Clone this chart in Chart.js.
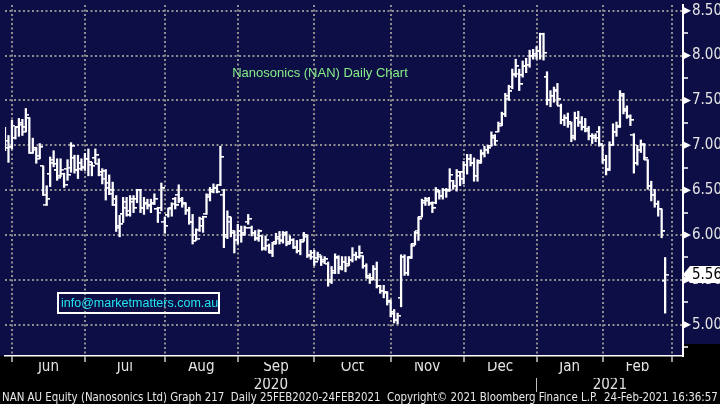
<!DOCTYPE html>
<html><head><meta charset="utf-8">
<script src="https://cdn.jsdelivr.net/npm/chart.js@4.4.1/dist/chart.umd.min.js"></script>
<style>html,body{margin:0;padding:0;background:#000;overflow:hidden}#wrap{width:720px;height:404px;position:relative}canvas{display:block}</style>
</head><body><div id="wrap"><canvas id="c" width="720" height="404" style="width:720px;height:404px"></canvas></div>
<script>
// Trading-day number of the first bar (0 = 1 Jun 2020)
const firstDay = -2;
// Daily OHLC, 28 May 2020 .. 24 Feb 2021
const open = [
 7.10,7.05,
 6.98,7.08,7.20,7.23,7.20,7.30,6.92,6.97,6.88,6.77,6.34,6.68,6.84,6.72,6.66,6.68,6.74,6.75,6.86,6.72,6.80,
 6.75,6.85,6.78,6.86,6.79,6.70,6.71,6.58,6.50,6.40,6.10,6.23,6.30,6.22,6.40,6.40,6.50,6.30,6.35,6.32,6.35,6.29,6.30,
 6.15,6.22,6.29,6.40,6.45,6.40,6.35,6.28,6.15,6.00,6.06,6.10,6.24,6.42,6.50,6.52,6.56,6.45,6.00,6.15,6.02,
 5.95,6.05,6.02,6.15,6.08,6.02,5.97,5.99,5.86,5.88,5.80,5.92,5.96,5.95,6.00,5.92,5.94,5.86,5.82,5.95,5.98,5.78,
 5.80,5.74,5.76,5.72,5.68,5.50,5.58,5.74,5.64,5.70,5.68,5.72,5.78,5.76,5.77,5.66,5.52,5.52,5.62,5.43,5.38,5.35,
 5.26,5.14,5.05,5.30,5.76,5.58,5.76,5.90,6.05,6.20,6.36,6.38,6.35,6.36,6.48,6.44,6.50,6.50,6.60,6.55,6.66,
 6.70,6.78,6.85,6.80,6.66,6.82,6.90,6.95,6.99,7.08,7.15,7.24,7.35,7.52,7.65,7.78,7.80,7.78,7.88,7.90,8.00,
 8.00,8.05,8.24,7.76,7.50,7.55,7.62,7.44,7.28,7.30,7.24,7.10,7.30,7.26,7.20,7.16,7.10,7.10,7.15,
 7.00,6.84,6.74,7.00,7.15,7.22,7.57,7.38,7.32,7.12,6.80,6.95,7.00,6.84,6.55,6.45,6.35,6.29,5.49
];
const high = [
 7.20,7.11,
 7.28,7.20,7.30,7.29,7.41,7.31,7.08,6.98,7.02,6.77,6.55,6.87,6.94,6.85,6.85,6.69,6.84,7.03,6.89,6.89,6.85,
 6.91,6.96,6.81,6.96,6.85,6.74,6.73,6.67,6.59,6.44,6.22,6.42,6.42,6.44,6.44,6.51,6.51,6.42,6.40,6.40,6.46,6.31,6.58,
 6.20,6.30,6.36,6.42,6.56,6.42,6.36,6.31,6.23,6.07,6.20,6.21,6.46,6.53,6.57,6.56,6.99,6.51,6.27,6.20,6.05,
 6.12,6.10,6.10,6.23,6.10,6.05,6.06,5.99,5.99,5.90,5.92,6.02,6.04,6.04,6.04,5.99,5.96,5.94,5.95,6.03,6.00,5.83,
 5.83,5.81,5.77,5.76,5.70,5.65,5.79,5.77,5.76,5.76,5.76,5.86,5.81,5.88,5.77,5.68,5.57,5.66,5.70,5.44,5.44,5.37,
 5.28,5.17,5.13,5.78,5.78,5.76,5.90,6.04,6.20,6.40,6.42,6.42,6.37,6.53,6.50,6.52,6.52,6.74,6.61,6.73,6.70,
 6.82,6.90,6.90,6.86,6.84,6.95,6.99,7.00,7.15,7.12,7.26,7.37,7.58,7.67,7.85,7.96,7.85,7.94,7.97,8.06,8.07,
 8.10,8.25,8.25,7.82,7.61,7.65,7.69,7.46,7.34,7.36,7.26,7.37,7.38,7.32,7.30,7.21,7.13,7.13,7.21,
 7.00,6.89,7.04,7.24,7.26,7.61,7.58,7.44,7.34,7.13,7.00,7.06,7.02,6.84,6.60,6.51,6.38,6.29,5.75
];
const low = [
 6.94,6.81,
 6.96,7.07,7.10,7.11,7.15,6.91,6.91,6.80,6.85,6.44,6.33,6.54,6.76,6.61,6.65,6.53,6.61,6.70,6.69,6.63,6.72,
 6.72,6.66,6.66,6.80,6.66,6.57,6.39,6.45,6.33,6.04,5.98,6.14,6.21,6.21,6.25,6.36,6.25,6.23,6.29,6.25,6.34,6.14,6.27,
 6.02,6.20,6.21,6.29,6.36,6.31,6.23,6.12,5.90,5.94,6.04,6.03,6.23,6.38,6.47,6.47,6.55,5.86,5.96,5.98,5.80,
 5.90,5.92,6.00,6.12,5.99,5.94,5.93,5.83,5.83,5.80,5.76,5.90,5.90,5.91,5.88,5.90,5.85,5.80,5.78,5.93,5.75,5.73,
 5.66,5.72,5.66,5.68,5.43,5.46,5.57,5.57,5.61,5.59,5.66,5.70,5.72,5.74,5.63,5.52,5.46,5.50,5.41,5.35,5.30,5.22,
 5.09,5.02,5.01,5.20,5.55,5.55,5.74,5.89,5.94,6.20,6.33,6.33,6.25,6.35,6.40,6.40,6.42,6.49,6.51,6.49,6.55,
 6.57,6.68,6.77,6.60,6.60,6.80,6.87,6.91,6.99,7.00,7.15,7.22,7.32,7.50,7.63,7.76,7.61,7.76,7.81,7.87,7.96,
 7.96,7.96,7.95,7.45,7.43,7.48,7.45,7.24,7.22,7.20,7.04,7.06,7.21,7.17,7.15,7.06,7.02,7.04,6.99,
 6.80,6.67,6.72,7.00,7.10,7.20,7.35,7.30,7.22,6.69,6.78,6.92,6.84,6.51,6.38,6.31,6.21,5.97,5.13
];
const close = [
 6.97,6.98,
 7.22,7.20,7.25,7.15,7.34,6.92,6.95,6.85,6.98,6.45,6.40,6.80,6.79,6.64,6.73,6.56,6.67,6.99,6.73,6.74,6.76,
 6.85,6.81,6.77,6.89,6.67,6.63,6.52,6.46,6.33,6.08,6.12,6.37,6.27,6.37,6.30,6.50,6.30,6.36,6.33,6.36,6.40,6.25,6.52,
 6.10,6.30,6.35,6.33,6.38,6.36,6.27,6.15,5.93,5.96,6.18,6.20,6.45,6.48,6.52,6.48,6.87,5.98,6.20,6.05,5.95,
 6.05,6.00,6.08,6.18,6.02,5.96,6.04,5.85,5.95,5.82,5.90,5.98,5.93,6.02,5.90,5.95,5.87,5.82,5.92,6.00,5.77,5.76,
 5.70,5.78,5.70,5.73,5.48,5.60,5.75,5.62,5.70,5.66,5.72,5.78,5.75,5.80,5.66,5.54,5.50,5.62,5.43,5.38,5.36,5.25,
 5.12,5.05,5.10,5.76,5.58,5.74,5.88,6.02,6.18,6.38,6.40,6.36,6.30,6.50,6.44,6.50,6.49,6.67,6.55,6.70,6.62,
 6.78,6.85,6.80,6.66,6.80,6.92,6.95,6.97,7.10,7.05,7.22,7.35,7.55,7.60,7.80,7.88,7.68,7.88,7.90,8.00,8.02,
 8.05,8.24,8.03,7.50,7.55,7.60,7.52,7.28,7.30,7.26,7.08,7.30,7.25,7.20,7.18,7.10,7.08,7.08,7.02,
 6.84,6.72,7.00,7.15,7.20,7.55,7.40,7.33,7.28,6.80,6.95,7.02,6.86,6.55,6.45,6.35,6.29,6.04,5.56
];
// Trading-day numbers of the first day of each month (Jun 2020 .. Mar 2021)
const monthStarts = [0,21,44,65,87,109,130,151,170,190];
const monthLabels = ['Jun','Jul','Aug','Sep','Oct','Nov','Dec','Jan','Feb'];
const yearLabels = ['2020','2021'];
const firstDay2021 = 151;
const priceTicks = [5.0,5.5,6.0,6.5,7.0,7.5,8.0,8.5];
const chartTitle = 'Nanosonics (NAN) Daily Chart';
const emailText = 'info@marketmatters.com.au';
const footerText = 'NAN AU Equity (Nanosonics Ltd) Graph 217  Daily 25FEB2020-24FEB2021  Copyright\u00A9 2021 Bloomberg Finance L.P.  24-Feb-2021 16:36:57';

// ---------- presentation ----------
const X_MIN = -2, X_MAX = 193.14, Y_MIN = 4.652, Y_MAX = 8.564;
const NAVY = '#0e0e46';
const NARROW = "'Liberation Sans Narrow','Arial Narrow','DejaVu Sans Condensed',sans-serif";
const SANS = "'Liberation Sans',Arial,sans-serif";

const days = open.map((_, k) => firstDay + k);
const monthMids = monthLabels.map((_, k) => (monthStarts[k] + monthStarts[k + 1]) / 2);
const yearTicks = [(X_MIN + firstDay2021) / 2, firstDay2021, (firstDay2021 + X_MAX) / 2];
const yearTickLabels = [yearLabels[0], '', yearLabels[1]];
const minorTicks = priceTicks.map(v => v - 0.25).concat([priceTicks[priceTicks.length - 1]]);
const allPriceTicks = Array.from(new Set(priceTicks.concat(minorTicks))).sort((a, b) => a - b);
const isMajor = v => priceTicks.some(p => Math.abs(p - v) < 1e-6);

function tickImage(side) {
  const c = document.createElement('canvas');
  c.width = 7; c.height = 2;
  const g = c.getContext('2d');
  g.fillStyle = '#ffffff';
  g.fillRect(side === 'left' ? 0 : 3.5, 0, 3.5, 1.6);
  return c;
}
function noPad(s) { s.paddingTop = 0; s.paddingBottom = 0; s.paddingLeft = 0; s.paddingRight = 0; }

const bgPlugin = {
  id: 'bg',
  beforeDraw(chart) {
    const { ctx, chartArea: a, width, height } = chart;
    ctx.save();
    ctx.fillStyle = '#000';
    ctx.fillRect(0, 0, width, height);
    ctx.fillStyle = NAVY;
    ctx.fillRect(0, 0, a.right, a.bottom);
    ctx.fillRect(a.right, 0, width - a.right, a.bottom - 12);
    ctx.restore();
  }
};

const overlayPlugin = {
  id: 'overlay',
  afterDraw(chart) {
    const { ctx, chartArea: a, width, height } = chart;
    const ys = chart.scales.y;
    ctx.save();
    ctx.fillStyle = '#ffffff';
    priceTicks.forEach(v => {
      const y = ys.getPixelForValue(v);
      ctx.beginPath();
      ctx.moveTo(a.right, y - 4); ctx.lineTo(a.right + 8, y); ctx.lineTo(a.right, y + 4);
      ctx.closePath(); ctx.fill();
    });
    const last = close[close.length - 1];
    const ly = ys.getPixelForValue(last);
    ctx.beginPath();
    ctx.moveTo(a.right, ly);
    ctx.lineTo(a.right + 7, ly - 8.5);
    ctx.lineTo(width, ly - 8.5);
    ctx.lineTo(width, ly + 8.5);
    ctx.lineTo(a.right + 7, ly + 8.5);
    ctx.closePath();
    ctx.fillStyle = '#ffffff'; ctx.fill();
    ctx.fillStyle = '#000000';
    ctx.font = '15px ' + NARROW;
    ctx.textBaseline = 'middle'; ctx.textAlign = 'left';
    ctx.fillText(last.toFixed(2), a.right + 9, ly + 1);
    ctx.font = '13px ' + SANS;
    ctx.fillStyle = '#86ee86';
    ctx.textAlign = 'center';
    ctx.fillText(chartTitle, 320, 73);
    ctx.strokeStyle = '#ffffff'; ctx.lineWidth = 2;
    ctx.strokeRect(58, 293, 161, 20);
    ctx.font = '12.5px ' + SANS;
    ctx.fillStyle = '#22e4f0';
    ctx.textAlign = 'left';
    ctx.fillText(emailText, 61, 304);
    ctx.font = '13px ' + NARROW;
    const w = ctx.measureText(footerText).width;
    const size = 13 * 716 / w;
    ctx.font = size.toFixed(2) + 'px ' + NARROW;
    ctx.fillStyle = '#e8e8e8';
    ctx.fillText(footerText, 2, height - 6);
    ctx.restore();
  }
};

const labelColor = '#e4e4e4';

new Chart(document.getElementById('c'), {
  type: 'bar',
  data: {
    datasets: [
      {
        type: 'bar',
        data: days.map((d, k) => ({ x: d, y: [low[k], high[k]] })),
        backgroundColor: '#ffffff',
        borderWidth: 0,
        barThickness: 1.6,
        xAxisID: 'x', yAxisID: 'y', order: 2
      },
      {
        type: 'line',
        data: days.map((d, k) => ({ x: d, y: open[k] })),
        showLine: false,
        pointStyle: tickImage('left'),
        pointRadius: 3,
        xAxisID: 'x', yAxisID: 'y', order: 1
      },
      {
        type: 'line',
        data: days.map((d, k) => ({ x: d, y: close[k] })),
        showLine: false,
        pointStyle: tickImage('right'),
        pointRadius: 3,
        xAxisID: 'x', yAxisID: 'y', order: 1
      }
    ]
  },
  options: {
    responsive: false,
    maintainAspectRatio: false,
    devicePixelRatio: 1,
    animation: false,
    events: [],
    layout: { padding: { left: 0, right: 0, top: 0, bottom: 12 } },
    plugins: { legend: { display: false }, tooltip: { enabled: false }, title: { display: false } },
    scales: {
      x: {
        type: 'linear', position: 'bottom', min: X_MIN, max: X_MAX, offset: false,
        afterBuildTicks: s => { s.ticks = monthStarts.map(v => ({ value: v })); },
        afterFit: s => { s.height = 6; noPad(s); },
        grid: { display: true, offset: false, color: '#8e8e8e', lineWidth: 2, drawTicks: true, tickLength: 6, tickColor: '#c8c8c8', tickWidth: 1.5 },
        border: { display: true, color: '#ffffff', width: 1.5, dash: [2, 2.5] },
        ticks: { display: false }
      },
      x2: {
        type: 'linear', position: 'bottom', min: X_MIN, max: X_MAX, offset: false,
        afterBuildTicks: s => { s.ticks = monthMids.map(v => ({ value: v })); },
        afterFit: s => { s.height = 16; noPad(s); },
        grid: { display: false, offset: false, drawTicks: false },
        border: { display: false },
        ticks: { autoSkip: false, maxRotation: 0, minRotation: 0, padding: -4,
          color: labelColor, font: { family: NARROW, size: 15 },
          callback: (v, i) => monthLabels[i] }
      },
      x3: {
        type: 'linear', position: 'bottom', min: X_MIN, max: X_MAX, offset: false,
        afterBuildTicks: s => { s.ticks = yearTicks.map(v => ({ value: v })); },
        afterFit: s => { s.height = 14; noPad(s); },
        grid: { display: true, offset: false, drawOnChartArea: false, drawTicks: true, tickLength: 14, tickWidth: 1,
          tickColor: c => (c.tick && c.tick.value === firstDay2021) ? '#bdbdbd' : 'rgba(0,0,0,0)',
          color: 'rgba(0,0,0,0)' },
        border: { display: false },
        ticks: { autoSkip: false, maxRotation: 0, minRotation: 0, padding: -16,
          color: labelColor, font: { family: NARROW, size: 15 },
          callback: (v, i) => yearTickLabels[i] }
      },
      y: {
        type: 'linear', position: 'right', min: Y_MIN, max: Y_MAX,
        afterBuildTicks: s => { s.ticks = allPriceTicks.map(v => ({ value: v })); },
        afterFit: s => { s.width = 37; noPad(s); },
        grid: { display: true, lineWidth: 2, drawTicks: true, tickLength: 5, tickWidth: 1.5, tickColor: '#ffffff',
          color: c => (c.tick && isMajor(c.tick.value)) ? '#8e8e8e' : 'rgba(0,0,0,0)' },
        border: { display: true, color: '#ffffff', width: 2, dash: [2, 2.5] },
        ticks: { autoSkip: false, padding: 4, crossAlign: 'near', color: labelColor,
          font: { family: NARROW, size: 15 },
          callback: v => isMajor(v) ? v.toFixed(2) : '' }
      }
    }
  },
  plugins: [bgPlugin, overlayPlugin]
});
</script></body></html>
